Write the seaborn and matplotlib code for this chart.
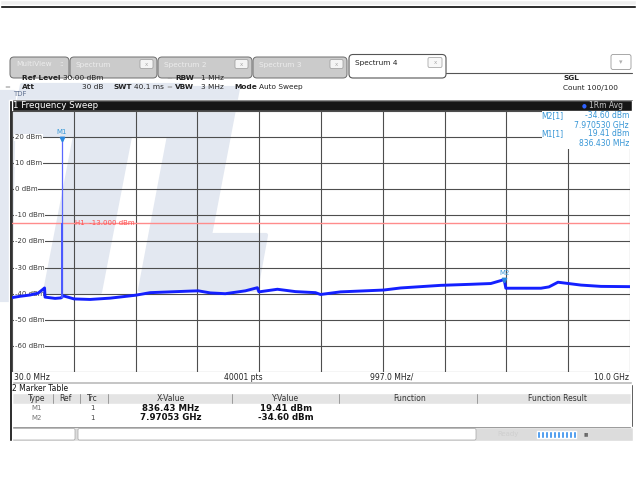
import numpy as np
import pandas as pd
import matplotlib
matplotlib.use("Agg")
import matplotlib.pyplot as plt
from matplotlib.patches import Rectangle, Polygon, FancyBboxPatch
import seaborn as sns

W, H = 636, 483

# ---- sweep data (30 MHz .. 10 GHz, trace 1, RMS average) ----
trace_freq_mhz = [30, 159, 321, 450, 531, 555, 563, 725, 822, 854, 1032, 1290,
                  1614, 2018, 2260, 2583, 2906, 3035, 3229, 3471, 3795, 3989,
                  4013, 4312, 4603, 4926, 5007, 5330, 6025, 6300, 6946, 7431,
                  7754, 7970.53, 7997, 8563, 8692, 8838, 9209, 9532, 10000]
trace_level_dbm = [-41.5, -41.0, -40.5, -39.8, -38.3, -37.8, -41.3, -41.8, -41.6,
                   -40.8, -42.0, -42.2, -41.7, -40.6, -39.6, -39.3, -39.0, -38.9,
                   -39.7, -40.0, -38.9, -37.7, -39.3, -38.3, -39.2, -39.6, -40.3,
                   -39.3, -38.6, -37.8, -36.8, -36.4, -36.1, -34.6, -37.9, -37.9,
                   -37.4, -35.6, -36.7, -37.2, -37.3]

# ---- markers ----
marker_names = ["M1", "M2"]
marker_freq_mhz = [836.43, 7970.53]
marker_level_dbm = [19.41, -34.60]

# ---- display line ----
h1_level_dbm = -13.0

# ---- scale ----
ref_level = 30
db_per_div = 10
f_start, f_stop = 30.0, 10000.0
y_tick_values = [20, 10, 0, -10, -20, -30, -40, -50, -60]

table_columns = ["Type", "Ref", "Trc", "X-Value", "Y-Value", "Function", "Function Result"]
tab_names = ["MultiView", "Spectrum", "Spectrum 2", "Spectrum 3", "Spectrum 4"]

sns.set_theme(style="white")
plt.rcParams["font.family"] = ["DejaVu Sans"]

fig = plt.figure(figsize=(W / 100, H / 100), dpi=100, facecolor="white")

# pixel-space overlay for the instrument frame
ui = fig.add_axes([0, 0, 1, 1])
ui.set_xlim(0, W)
ui.set_ylim(H, 0)
ui.axis("off")
ui.set_zorder(0)


def rect(x0, y0, x1, y1, z=1, **kw):
    ui.add_patch(Rectangle((x0, y0), x1 - x0, y1 - y0, zorder=z, **kw))


def rbox(x0, y0, x1, y1, r=3, z=1, **kw):
    ui.add_patch(FancyBboxPatch((x0, y0), x1 - x0, y1 - y0,
                                boxstyle=f"round,pad=0,rounding_size={r}", zorder=z, **kw))


def txt(x, y, s, size=5.3, color="#222222", z=5, **kw):
    ui.text(x, y, s, fontsize=size, color=color, va="center", zorder=z, **kw)


# watermark logo
wm = "#e3e8f1"
for pts in [
    [(0, 92), (14, 92), (10, 300), (0, 300)],
    [(22, 85), (182, 85), (172, 135), (12, 135)],
    [(82, 100), (137, 100), (100, 292), (45, 292)],
    [(178, 88), (238, 88), (210, 235), (266, 235), (256, 290), (140, 290)],
]:
    ui.add_patch(Polygon(pts, closed=True, facecolor=wm, edgecolor=wm, lw=3,
                         joinstyle="round", zorder=0.2))

# top bar
rect(0, 0, W, 5, facecolor="#efefef")
rect(0, 5, W, 8, facecolor="black")

# tabs
tabs = [(10, 69), (70, 157), (158, 252), (253, 347)]
for (x0, x1), name in zip(tabs, tab_names[:4]):
    rbox(x0, 57, x1, 78, r=4, facecolor="#cbcbcb", edgecolor="#6e6e6e", lw=0.7)
    txt(x0 + 6, 64.5, name, size=5.3, color="#ececec")
    if name != "MultiView":
        rbox(x1 - 17, 59.5, x1 - 4, 68.5, r=1.5, z=2, facecolor="#f4f4f4", edgecolor="#9a9a9a", lw=0.5)
        txt(x1 - 10.5, 64.2, "x", size=4, color="#aaaaaa", ha="center", z=3)
    else:
        txt(62, 64.5, "::", size=5, color="#eeeeee", ha="center")
rbox(349, 54.5, 446, 78, r=4, z=1.5, facecolor="white", edgecolor="#555555", lw=0.8)
txt(355, 63.5, tab_names[4], size=5.3, color="#222222")
rbox(428, 57.5, 442, 67.5, r=1.5, z=2, facecolor="#f8f8f8", edgecolor="#9a9a9a", lw=0.5)
txt(435, 62.6, "x", size=4, color="#aaaaaa", ha="center", z=3)
rbox(611, 54.5, 631, 69.5, r=2, z=1.5, facecolor="white", edgecolor="#9a9a9a", lw=0.6)
txt(621, 62, "▾", size=5, color="#b0b0b0", ha="center")

# settings header
ui.plot([446, 632], [72.5, 72.5], color="#555555", lw=0.8, zorder=2)
txt(22, 78, "Ref Level", weight="bold")
txt(63, 78, "30.00 dBm")
txt(4, 87, "=", size=5, color="#9a9a9a")
txt(22, 87, "Att", weight="bold")
txt(103, 87, "30 dB", ha="right")
txt(113, 87, "SWT", weight="bold")
txt(134, 87, "40.1 ms")
txt(166, 78, "=", size=5, color="#9a9a9a")
txt(166, 87, "=", size=5, color="#9a9a9a")
txt(175, 78, "RBW", weight="bold")
txt(201, 78, "1 MHz")
txt(175, 87, "VBW", weight="bold")
txt(201, 87, "3 MHz")
txt(234, 87, "Mode", weight="bold")
txt(259, 87, "Auto Sweep")
txt(13, 94, "TDF", size=5, color="#5f7090")
txt(563, 78, "SGL", weight="bold")
txt(563, 88, "Count 100/100")

# window title bar
rect(10, 100, 632, 111, facecolor="#161616")
ui.plot([10, 632], [100.4, 100.4], color="#777777", lw=0.6, zorder=1.2)
txt(13, 105.5, "1 Frequency Sweep", size=6.3, color="white")
txt(584, 105.5, "●", size=4, color="#2f62ff", ha="center")
txt(589, 105.5, "1Rm Avg", size=5.5, color="#c6c6c6")

# frame
rect(9, 100, 11.6, 441, z=3, facecolor="black")
rect(631, 384, 633, 427, z=3, facecolor="black")

# bottom annotation strip
txt(14, 377, f"{f_start:.1f} MHz", size=5.5, color="#222222")
txt(243, 377, "40001 pts", size=5.5, color="#222222", ha="center")
span_per_div = (f_stop - f_start) / 10
txt(392, 377, f"{span_per_div:.1f} MHz/", size=5.5, color="#222222", ha="center")
txt(629, 377, f"{f_stop / 1000:.1f} GHz", size=5.5, color="#222222", ha="right")
rect(11, 381, 632, 383.5, facecolor="#b9b9b9")

# marker table
txt(12, 388.5, "2 Marker Table", size=5.5, color="#111111")
rect(12, 393, 631, 404, facecolor="#e4e4e4")
col_centers = [37, 65, 92, 171, 286, 410, 558]
col_seps = [53, 80, 108, 232, 339, 477]
for c, name in zip(col_centers, table_columns):
    txt(c, 398.5, name, size=5.5, color="#333333", ha="center")
for s in col_seps:
    ui.plot([s, s], [394, 403], color="#9a9a9a", lw=0.7, zorder=2)
row_y = [408.5, 417.5]
for yy, name, f, lvl in zip(row_y, marker_names, marker_freq_mhz, marker_level_dbm):
    txt(col_centers[0], yy, name, size=5, color="#777777", ha="center")
    txt(col_centers[2], yy, "1", size=5, color="#444444", ha="center")
    xval = f"{f:.2f} MHz" if f < 1000 else f"{f / 1000:.5f} GHz"
    txt(col_centers[3], yy, xval, size=6.2, color="#111111", ha="center", weight="bold")
    txt(col_centers[4], yy, f"{lvl:.2f} dBm", size=6.2, color="#111111", ha="center", weight="bold")
ui.plot([11, 632], [427, 427], color="#8a8a8a", lw=0.6, zorder=2)

# status bar
rect(11, 427.3, 633, 441, facecolor="#dcdcdc")
rbox(12, 428.5, 75, 440, r=1.5, z=1.5, facecolor="white", edgecolor="#a5a5a5", lw=0.5)
rbox(78, 428.5, 476, 440, r=1.5, z=1.5, facecolor="white", edgecolor="#a5a5a5", lw=0.5)
txt(497, 434, "Ready", size=5, color="#cfcfcf")
for i in range(10):
    rect(537 + i * 4, 430.5, 537 + i * 4 + 3, 437.5, z=2, facecolor="#2e8bec")
txt(584, 434, "▮▮", size=3.5, color="#666666")

# ---- spectrum diagram ----
ax = fig.add_axes([12 / W, 1 - 372 / H, (630 - 12) / W, (372 - 111) / H])
ax.set_zorder(2)
ax.patch.set_alpha(0)
ax.set_xlim(f_start, f_stop)
ax.set_ylim(ref_level - 10 * db_per_div, ref_level)
ax.set_xticks(np.linspace(f_start, f_stop, 11))
ax.set_yticks(np.arange(ref_level - 10 * db_per_div, ref_level + 1, db_per_div))
ax.grid(True, color="#4e4e4e", lw=0.8)
ax.set_axisbelow(True)
ax.tick_params(length=0, labelbottom=False, labelleft=False)
for side in ["top", "right", "bottom", "left"]:
    ax.spines[side].set_visible(False)

# level labels sitting on the graticule
for v in y_tick_values:
    ax.text(3 / 618, v, f"{v} dBm", transform=ax.get_yaxis_transform(),
            fontsize=5, color="#3a3a3a", va="center", ha="left", zorder=2.5,
            bbox=dict(facecolor="white", edgecolor="none", pad=0.4))

# display line H1
ax.axhline(h1_level_dbm, color="#ff8c8c", lw=1.0, zorder=2)
ax.text((75 - 12) / 618, h1_level_dbm, f"H1  {h1_level_dbm:.3f} dBm",
        transform=ax.get_yaxis_transform(), fontsize=5, color="#ff5050",
        va="center", ha="left", zorder=2.6)

# trace 1
df = pd.DataFrame({"freq": trace_freq_mhz, "level": trace_level_dbm})
sns.lineplot(data=df, x="freq", y="level", ax=ax, color="#1420ff", lw=2.1,
             estimator=None, sort=False, zorder=3)
ax.set_xlabel("")
ax.set_ylabel("")

# carrier line at M1
ax.vlines(marker_freq_mhz[0], -41.6, marker_level_dbm[0], color="#5a68ff", lw=0.9, zorder=3)
ax.vlines(marker_freq_mhz[0], -41.6, h1_level_dbm, color="#4a58ff", lw=1.4, zorder=3)

# marker symbols
for name, f, lvl in zip(marker_names, marker_freq_mhz, marker_level_dbm):
    ax.plot([f], [lvl], marker="v", ms=3.2, color="#2a88dd", zorder=4, ls="none")
    ax.annotate(name, (f, lvl), xytext=(0, 4.6), textcoords="offset points",
                ha="center", va="center", fontsize=5, color="#3b9ad8", zorder=4)

# marker info field
ax.add_patch(Rectangle(((542 - 12) / 618, (372 - 149) / 261), 1 - (542 - 12) / 618,
                       1 - (372 - 149) / 261, transform=ax.transAxes,
                       facecolor="white", edgecolor="none", zorder=2.7))
info_c = "#3796d6"
lines_y = [116, 125, 134, 143]
m2f, m1f = marker_freq_mhz[1], marker_freq_mhz[0]
info = [
    ("M2[1]", f"{marker_level_dbm[1]:.2f} dBm"),
    (None, f"{m2f / 1000:.6f} GHz"),
    ("M1[1]", f"{marker_level_dbm[0]:.2f} dBm"),
    (None, f"{m1f:.3f} MHz"),
]
for yy, (lab, val) in zip(lines_y, info):
    if lab:
        fig.text(541 / W, 1 - yy / H, lab, fontsize=5.5, color=info_c, va="center", zorder=6)
    fig.text(629 / W, 1 - yy / H, val, fontsize=5.5, color=info_c, va="center", ha="right", zorder=6)

fig.savefig("out.png", dpi=100, facecolor="white")
